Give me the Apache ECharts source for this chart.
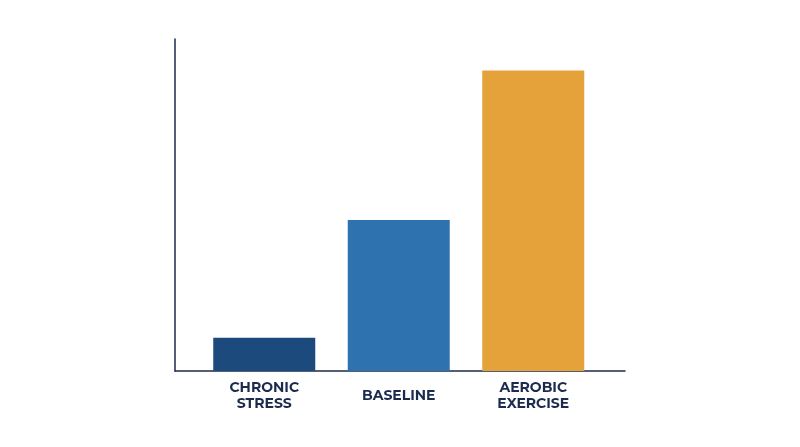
<!DOCTYPE html>
<html>
<head>
<meta charset="utf-8">
<script src="https://cdn.jsdelivr.net/npm/echarts@6/dist/echarts.min.js"></script>
<style>html,body{margin:0;padding:0;background:#fff}#c{width:800px;height:447px}</style>
</head>
<body>
<div id="c"></div>
<script>
const categories = ['CHRONIC\nSTRESS', 'BASELINE', 'AEROBIC\nEXERCISE'];
const values = [10, 45.5, 90.5];
const barColors = ['#1c4a7d', '#2e72b0', '#e6a23a'];
const axisColor = '#1b2b4d';
const labelColor = '#1b2b4d';

const chart = echarts.init(document.getElementById('c'), null, {renderer: 'canvas'});
chart.setOption({
  backgroundColor: '#ffffff',
  animation: false,
  grid: [
    {left: 175, right: 175, top: 39, bottom: 76},
    {left: 197, right: 199.5, top: 39, bottom: 76}
  ],
  xAxis: [
    {gridIndex: 0, type: 'category', data: ['', '', ''],
     axisLine: {lineStyle: {color: axisColor, width: 1.5}},
     axisTick: {show: false}, axisLabel: {show: false}, splitLine: {show: false}},
    {gridIndex: 1, type: 'category', data: categories,
     axisLine: {show: false}, axisTick: {show: false},
     axisLabel: {color: labelColor, fontFamily: 'Montserrat, "Open Sans", sans-serif',
       fontWeight: 'bold', fontSize: 14, lineHeight: 16, margin: 24.5, verticalAlign: 'middle'}}
  ],
  yAxis: [
    {gridIndex: 0, type: 'value', min: 0, max: 100,
     axisLine: {show: true, lineStyle: {color: axisColor, width: 1.5}},
     axisTick: {show: false}, axisLabel: {show: false}, splitLine: {show: false}},
    {gridIndex: 1, type: 'value', min: 0, max: 100,
     axisLine: {show: false}, axisTick: {show: false}, axisLabel: {show: false}, splitLine: {show: false}}
  ],
  series: [{
    type: 'bar', xAxisIndex: 1, yAxisIndex: 1,
    barWidth: 102,
    data: values.map((v, i) => ({value: v, itemStyle: {color: barColors[i]}}))
  }]
});
</script>
</body>
</html>
